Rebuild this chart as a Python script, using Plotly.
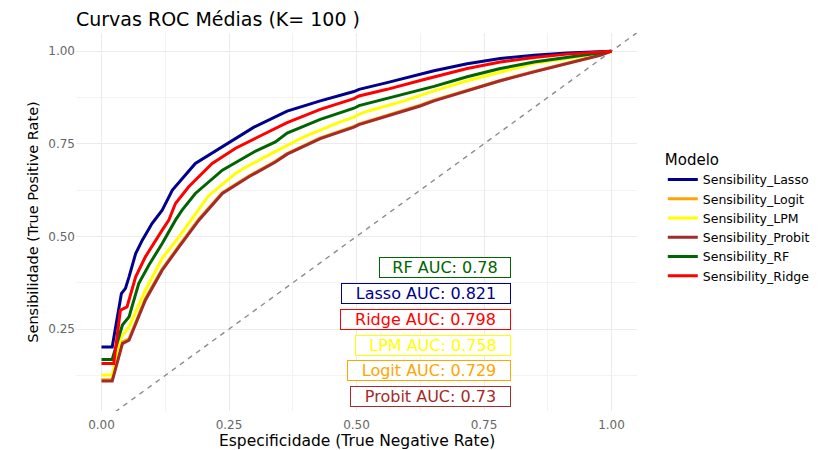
import plotly.graph_objects as go

# ---- data ----
models = ["Lasso", "Logit", "LPM", "Probit", "RF", "Ridge"]
series_names = ["Sensibility_" + m for m in models]
colors = ["#00008B", "#FFA500", "#FFFF00", "#A52A2A", "#006400", "#FF0000"]

lasso_x = [0, 0.021, 0.039, 0.047, 0.054, 0.067, 0.080, 0.099, 0.119, 0.139, 0.184, 0.237, 0.269, 0.299,
           0.364, 0.429, 0.495, 0.505, 0.560, 0.625, 0.652, 0.717, 0.782, 0.848, 0.913, 1.0]
lasso_y = [0.202, 0.202, 0.346, 0.360, 0.391, 0.454, 0.490, 0.535, 0.571, 0.625, 0.697, 0.742, 0.769, 0.795,
           0.838, 0.866, 0.891, 0.897, 0.915, 0.938, 0.947, 0.966, 0.980, 0.989, 0.995, 1.0]

ridge_x = [0, 0.024, 0.037, 0.050, 0.067, 0.086, 0.119, 0.132, 0.145, 0.171, 0.217, 0.263, 0.302,
           0.364, 0.429, 0.495, 0.505, 0.560, 0.625, 0.717, 0.782, 0.848, 0.913, 1.0]
ridge_y = [0.157, 0.157, 0.301, 0.310, 0.391, 0.445, 0.517, 0.544, 0.589, 0.634, 0.697, 0.738, 0.765,
           0.807, 0.843, 0.872, 0.879, 0.897, 0.921, 0.953, 0.971, 0.983, 0.992, 1.0]

rf_x = [0, 0.021, 0.041, 0.054, 0.073, 0.093, 0.119, 0.145, 0.158, 0.184, 0.237, 0.282, 0.299, 0.341,
        0.364, 0.429, 0.495, 0.505, 0.560, 0.625, 0.652, 0.717, 0.782, 0.848, 0.913, 1.0]
rf_y = [0.168, 0.168, 0.261, 0.283, 0.373, 0.423, 0.481, 0.544, 0.571, 0.616, 0.679, 0.715, 0.728, 0.755,
        0.779, 0.816, 0.846, 0.853, 0.873, 0.895, 0.905, 0.931, 0.953, 0.971, 0.983, 1.0]

lpm_x = [0, 0.021, 0.037, 0.054, 0.086, 0.119, 0.152, 0.181, 0.210, 0.263, 0.279, 0.331, 0.397, 0.462,
         0.495, 0.505, 0.527, 0.593, 0.652, 0.717, 0.782, 0.848, 0.913, 1.0]
lpm_y = [0.126, 0.126, 0.225, 0.256, 0.355, 0.441, 0.499, 0.553, 0.610, 0.670, 0.684, 0.722, 0.769, 0.806,
         0.822, 0.830, 0.840, 0.866, 0.893, 0.920, 0.944, 0.967, 0.980, 1.0]

probit_x = [0, 0.021, 0.041, 0.054, 0.086, 0.119, 0.152, 0.181, 0.191, 0.237, 0.289, 0.341, 0.364, 0.429,
            0.495, 0.505, 0.560, 0.625, 0.652, 0.717, 0.782, 0.848, 0.913, 0.978, 1.0]
probit_y = [0.110, 0.110, 0.211, 0.220, 0.328, 0.409, 0.472, 0.526, 0.544, 0.616, 0.661, 0.701, 0.722, 0.764,
            0.795, 0.802, 0.825, 0.852, 0.866, 0.893, 0.920, 0.944, 0.967, 0.989, 1.0]

logit_x = [0, 0.021, 0.041, 0.054, 0.086, 0.119, 0.152, 0.181, 0.191, 0.237, 0.289, 0.341, 0.364, 0.429,
           0.495, 0.505, 0.560, 0.625, 0.652, 0.717, 0.782, 0.848, 0.913, 0.978, 1.0]
logit_y = [0.113, 0.113, 0.215, 0.224, 0.332, 0.412, 0.475, 0.529, 0.547, 0.618, 0.663, 0.703, 0.724, 0.766,
           0.797, 0.804, 0.827, 0.854, 0.868, 0.895, 0.921, 0.945, 0.968, 0.990, 1.0]

curve_x = [lasso_x, logit_x, lpm_x, probit_x, rf_x, ridge_x]
curve_y = [lasso_y, logit_y, lpm_y, probit_y, rf_y, ridge_y]

# AUC labels (top to bottom order in the picture)
label_models = ["RF", "Lasso", "Ridge", "LPM", "Logit", "Probit"]
label_auc = ["0.78", "0.821", "0.798", "0.758", "0.729", "0.73"]

xticks = [0.0, 0.25, 0.5, 0.75, 1.0]
xtick_text = ["0.00", "0.25", "0.50", "0.75", "1.00"]
yticks = [0.25, 0.5, 0.75, 1.0]
ytick_text = ["0.25", "0.50", "0.75", "1.00"]

FONT = "DejaVu Sans"
color_of = dict(zip(models, colors))

# approximate DejaVu Sans glyph advance widths (em) used to size label boxes
_adv = {"R": .695, "F": .575, "L": .557, "P": .603, "M": .863, "A": .684, "U": .732, "C": .698,
        "a": .613, "s": .521, "o": .612, "i": .278, "d": .635, "g": .635, "e": .615, "r": .411,
        "b": .635, "t": .392, "l": .278, "1": .636, ":": .337, " ": .318, ".": .318}


def text_px(s, size):
    return sum(_adv.get(ch, .636) for ch in s) * size


fig = go.Figure()

# diagonal reference line (abline) spanning the panel
fig.add_trace(go.Scatter(x=[-0.1, 1.1], y=[-0.1, 1.1], mode="lines",
                         line=dict(color="#8C8C8C", width=1.4, dash="5px,5px"),
                         showlegend=False, hoverinfo="skip"))

for name, c, xs, ys in zip(series_names, colors, curve_x, curve_y):
    fig.add_trace(go.Scatter(x=xs, y=ys, mode="lines", name=name,
                             line=dict(color=c, width=3)))

LABEL_SIZE = 16
for i, (m, a) in enumerate(zip(label_models, label_auc)):
    c = color_of[m]
    txt = f"{m} AUC: {a}"
    fig.add_annotation(x=0.802, y=0.417 - 0.07 * i, xref="x", yref="y",
                       text=txt, showarrow=False,
                       xanchor="right", yanchor="middle",
                       width=round(1.1 * text_px(txt, LABEL_SIZE) + 14), height=19,
                       align="center",
                       font=dict(family=FONT, size=LABEL_SIZE, color=c),
                       bgcolor="white", bordercolor=c, borderwidth=1, borderpad=0)

# x-axis title placed as a paper annotation just below the tick labels
fig.add_annotation(x=0.5, y=-(441 - 411) / 378, xref="paper", yref="paper",
                   text="Especificidade (True Negative Rate)", showarrow=False,
                   xanchor="center", yanchor="middle",
                   font=dict(family=FONT, size=15.5, color="black"))

fig.update_layout(
    width=830, height=450,
    margin=dict(l=76, r=193, t=33, b=39),
    paper_bgcolor="white", plot_bgcolor="white",
    font=dict(family=FONT, color="black"),
    title=dict(text="Curvas ROC Médias (K= 100 )", x=76 / 830, xanchor="left",
               y=1 - 19 / 450, yanchor="middle", yref="container",
               font=dict(family=FONT, size=19, color="black")),
    legend=dict(x=1.046, xanchor="left", y=0.703, yanchor="top",
                title=dict(text="Modelo", font=dict(family=FONT, size=15, color="black")),
                font=dict(family=FONT, size=12.5, color="black"),
                bgcolor="rgba(0,0,0,0)", tracegroupgap=0),
    showlegend=True,
)

fig.update_xaxes(range=[-0.05, 1.05], tickvals=xticks, ticktext=xtick_text, automargin=False,
                 showgrid=True, gridcolor="#EBEBEB", gridwidth=1,
                 zeroline=False, showline=False, ticks="", ticklabelstandoff=5,
                 tickfont=dict(family=FONT, size=12, color="#666666"),
                 minor=dict(tickvals=[0.125, 0.375, 0.625, 0.875], showgrid=True,
                            gridcolor="#F3F3F3", gridwidth=0.6))
fig.update_yaxes(range=[0.029, 1.049], tickvals=yticks, ticktext=ytick_text, automargin=False,
                 showgrid=True, gridcolor="#EBEBEB", gridwidth=1,
                 zeroline=False, showline=False, ticks="",
                 tickfont=dict(family=FONT, size=12, color="#666666"),
                 minor=dict(tickvals=[0.125, 0.375, 0.625, 0.875], showgrid=True,
                            gridcolor="#F3F3F3", gridwidth=0.6),
                 title=dict(text="Sensibilidade (True Positive Rate)", standoff=6,
                            font=dict(family=FONT, size=14.5, color="black")))

fig.write_html("out.html")
